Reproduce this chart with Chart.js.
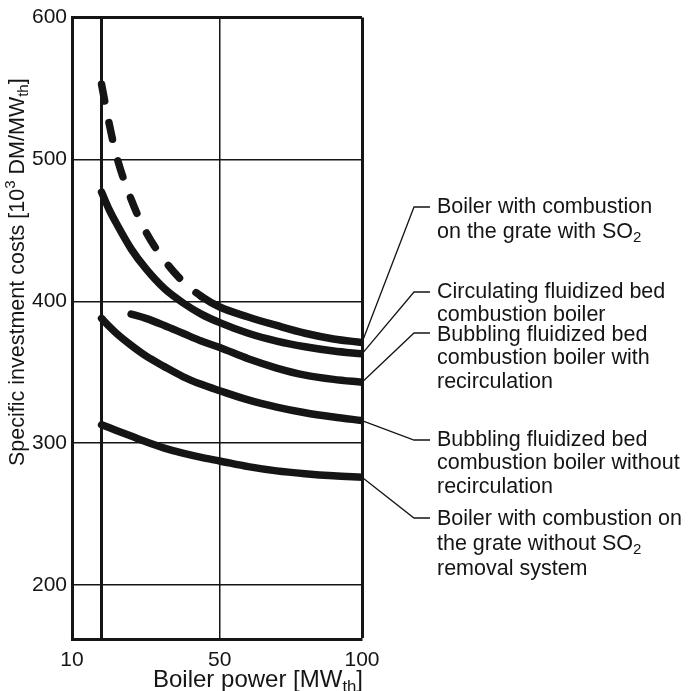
<!DOCTYPE html>
<html>
<head>
<meta charset="utf-8">
<script src="https://cdn.jsdelivr.net/npm/chart.js@4.4.0/dist/chart.umd.min.js"></script>
<style>
    html, body { margin: 0; padding: 0; background: #fff; }
</style>
</head>
<body>
<canvas id="graph1" width="688" height="691"></canvas>
<script>
const power = [18, 20, 22, 26, 30, 35, 40, 45, 50, 60, 70, 80, 90, 100];

// specific investment costs [10^3 DM/MW_th]
const grateWithSO2 = [553, 526, 503, 472, 449, 429, 414, 403.5, 396, 389, 383, 377.5, 373.5, 371];
const circulatingFB = [477, 465, 455, 437, 423, 409, 399, 391, 385, 377.5, 372, 368, 365, 363];
const bubblingWithRecirc = [null, null, null, 391, 388, 383, 377.5, 372, 367.5, 359.5, 353, 348, 345, 343];
const bubblingWithoutRecirc = [388, 382.5, 377.5, 369, 361.5, 354, 347, 341.5, 337, 330.5, 325.5, 321.5, 318.5, 316];
const grateWithoutSO2 = [313, 311, 309, 305, 301, 296.5, 293, 290, 287.5, 283.5, 280.5, 278.5, 277, 276];

const xGrid = [10, 18, 50, 100];
const xLabels = [10, 50, 100];
const yTicks = [200, 300, 400, 500, 600];

const seriesNames = [
    ['Boiler with combustion', 'on the grate with SO_{2}'],
    ['Circulating fluidized bed', 'combustion boiler'],
    ['Bubbling fluidized bed', 'combustion boiler with', 'recirculation'],
    ['Bubbling fluidized bed', 'combustion boiler without', 'recirculation'],
    ['Boiler with combustion on', 'the grate without SO_{2}', 'removal system']
];

const FONT = '"Liberation Sans", Arial, Helvetica, sans-serif';
const INK = '#151515';

// the printed x axis is not linear: 10, 50 and 100 sit almost evenly spaced
const LinearScale = Chart.LinearScale || Chart.registry.getScale('linear');
const MID = 0.5095;

function powerToDecimal(v) {
    if (v <= 50) {
        return (v - 10) / 40 * MID;
    }
    return MID + (v - 50) / 50 * (1 - MID);
}

function decimalToPower(d) {
    if (d <= MID) {
        return 10 + d / MID * 40;
    }
    return 50 + (d - MID) / (1 - MID) * 50;
}

class PiecewiseScale extends LinearScale {
    getPixelForValue(value) {
        if (value === null || value === undefined) {
            return NaN;
        }
        return this.getPixelForDecimal(powerToDecimal(value));
    }
    getValueForPixel(pixel) {
        return decimalToPower(this.getDecimalForPixel(pixel));
    }
}
PiecewiseScale.id = 'piecewise';
PiecewiseScale.defaults = LinearScale.defaults;
Chart.register(PiecewiseScale);

function drawRich(ctx, str, x, y, size) {
    let parts = str.split(/(_\{[^}]*\}|\^\{[^}]*\})/);
    for (let i = 0; i < parts.length; i++) {
        let p = parts[i];
        if (!p) continue;
        let t = p;
        let s = size;
        let dy = 0;
        if (p.startsWith('_{')) {
            t = p.slice(2, -1);
            s = size * 0.7;
            dy = size * 0.22;
        } else if (p.startsWith('^{')) {
            t = p.slice(2, -1);
            s = size * 0.7;
            dy = -size * 0.4;
        }
        ctx.font = s + 'px ' + FONT;
        ctx.fillText(t, x, y + dy);
        x += ctx.measureText(t).width;
    }
    return x;
}

// labels with leader lines, plus axis titles with sub/superscripts
const labelPlugin = {
    id: 'labels',
    afterDraw(chart) {
        let ctx = chart.ctx;
        let xs = chart.scales.x;
        let ys = chart.scales.y;
        let kneeY = [207, 292, 333, 440, 518];
        let textY = [205, 290, 333, 438, 517];
        let lineGap = [25, 23, 23.5, 23.5, 25];
        let size = 21.5;

        ctx.save();
        ctx.fillStyle = INK;
        ctx.strokeStyle = INK;
        ctx.lineWidth = 1.3;
        ctx.textAlign = 'left';
        ctx.textBaseline = 'alphabetic';

        chart.data.datasets.forEach((ds, i) => {
            let last = ds.data[ds.data.length - 1];
            let px = xs.getPixelForValue(last.x);
            let py = ys.getPixelForValue(last.y);
            ctx.beginPath();
            ctx.moveTo(px, py);
            ctx.lineTo(414, kneeY[i]);
            ctx.lineTo(430, kneeY[i]);
            ctx.stroke();

            seriesNames[i].forEach((line, j) => {
                drawRich(ctx, line, 437, textY[i] + j * lineGap[i] + size * 0.36, size);
            });
        });

        // y axis title
        ctx.save();
        ctx.translate(16 + size * 0.36, 466);
        ctx.rotate(-Math.PI / 2);
        drawRich(ctx, 'Specific investment costs [10^{3} DM/MW_{th}]', 0, 0, size);
        ctx.restore();

        // x axis title
        drawRich(ctx, 'Boiler power [MW_{th}]', 153, 687, 24);
        ctx.restore();
    }
};

function toPoints(values) {
    return values.map((v, i) => ({x: power[i], y: v}));
}

let series = [grateWithSO2, circulatingFB, bubblingWithRecirc, bubblingWithoutRecirc, grateWithoutSO2];

let datasets = series.map((values, i) => ({
    label: seriesNames[i].join(' '),
    data: toPoints(values),
    borderColor: INK,
    borderWidth: 7.5,
    borderCapStyle: 'round',
    borderJoinStyle: 'round',
    pointRadius: 0,
    cubicInterpolationMode: 'monotone',
    fill: false
}));

// the top curve is dashed up to about 45 MW
datasets[0].segment = {
    borderDash: ctx => ctx.p0.parsed.x < 45 ? [17, 22] : undefined
};

let gridWidth = (edges) => (ctx) => edges.includes(ctx.tick.value) ? 3 : 1.5;

let config = {
    type: 'line',
    data: {datasets: datasets},
    plugins: [labelPlugin],
    options: {
        responsive: false,
        animation: false,
        layout: {padding: {top: 15, right: 326, left: 0, bottom: 0}},
        plugins: {
            legend: {display: false},
            tooltip: {enabled: false}
        },
        scales: {
            x: {
                type: 'piecewise',
                min: 10,
                max: 100,
                afterBuildTicks: s => { s.ticks = xGrid.map(v => ({value: v})); },
                afterFit: s => { s.height = 52; },
                ticks: {
                    autoSkip: false,
                    maxRotation: 0,
                    padding: 9,
                    color: INK,
                    font: {family: FONT, size: 21},
                    callback: v => xLabels.includes(v) ? String(v) : ''
                },
                grid: {color: INK, lineWidth: gridWidth([18, 100]), drawTicks: false},
                border: {display: true, color: INK, width: 3}
            },
            y: {
                type: 'linear',
                min: 162,
                max: 600,
                afterBuildTicks: s => { s.ticks = yTicks.map(v => ({value: v})); },
                afterFit: s => { s.width = 72; },
                ticks: {
                    padding: 5,
                    color: INK,
                    font: {family: FONT, size: 21}
                },
                grid: {color: INK, lineWidth: gridWidth([600]), drawTicks: false},
                border: {display: true, color: INK, width: 3}
            }
        }
    }
};

let graph1 = new Chart(document.getElementById('graph1').getContext('2d'), config);
</script>
</body>
</html>
